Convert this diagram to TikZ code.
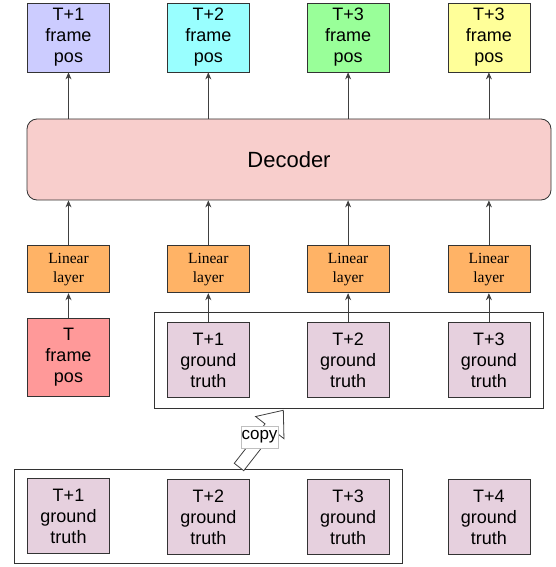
\documentclass[tikz,border=0pt]{standalone}
\usepackage{fontspec}
\setmainfont{Liberation Sans}
\newfontfamily\linfont{Liberation Serif}
\usetikzlibrary{positioning,fit,arrows.meta}

\definecolor{outblue}{HTML}{CCCCFF}
\definecolor{outcyan}{HTML}{99FFFF}
\definecolor{outgreen}{HTML}{99FF99}
\definecolor{outyellow}{HTML}{FFFF99}
\definecolor{decred}{HTML}{F8CECC}
\definecolor{linorange}{HTML}{FFB366}
\definecolor{curred}{HTML}{FF9999}
\definecolor{gtpink}{HTML}{E6D0DE}

\begin{document}
\begin{tikzpicture}[
      x=1pt, y=1pt,
      nodes={inner sep=0pt, align=center},
      box/.style={draw=black!80, line width=0.8pt, minimum width=82pt,
        font=\fontsize{18}{21}\selectfont},
      posbox/.style={box, minimum height=69pt},
      gtbox/.style={box, fill=gtpink, minimum height=75pt},
      linbox/.style={box, fill=linorange, minimum height=47pt,
        font=\linfont\fontsize{15.5}{19}\selectfont},
      group/.style={draw=black!80, line width=0.8pt},
      line width=0.8pt, draw=black!75, >={Stealth[length=7pt,width=6pt]}
      ]

      \useasboundingbox (0,0) rectangle (556,-567);

      \node[posbox, fill=outblue]                    (out1) at (68.5,-37.5) {T+1\\frame\\pos};
      \node[posbox, fill=outcyan, right=57pt of out1]   (out2) {T+2\\frame\\pos};
      \node[posbox, fill=outgreen, right=57pt of out2]  (out3) {T+3\\frame\\pos};
      \node[posbox, fill=outyellow, right=58pt of out3] (out4) {T+3\\frame\\pos};

      \node[draw=black!80, line width=0.8pt, fill=decred, rounded corners=10pt,
        minimum width=524pt, minimum height=81pt,
        font=\fontsize{22}{26}\selectfont] (dec) at (289,-159.5) {Decoder};

      \node[linbox, below=173pt of out1] (lin1) {Linear\\layer};
      \node[linbox, below=173pt of out2] (lin2) {Linear\\layer};
      \node[linbox, below=173pt of out3] (lin3) {Linear\\layer};
      \node[linbox, below=173pt of out4] (lin4) {Linear\\layer};

      \node[box, fill=curred, minimum height=78pt, below=25pt of lin1] (cur) {T\\frame\\pos};
      \node[gtbox, below=29pt of lin2] (gt1) {T+1\\ground\\truth};
      \node[gtbox, below=29pt of lin3] (gt2) {T+2\\ground\\truth};
      \node[gtbox, below=29pt of lin4] (gt3) {T+3\\ground\\truth};
      \node[group, fit=(gt1)(gt3), inner xsep=13pt, inner ysep=10pt] (gtgroup) {};

      \node[gtbox, below=81pt of cur] (bgt1) {T+1\\ground\\truth};
      \node[gtbox, below=81pt of gt1] (bgt2) {T+2\\ground\\truth};
      \node[gtbox, below=81pt of gt2] (bgt3) {T+3\\ground\\truth};
      \node[gtbox, below=81pt of gt3] (bgt4) {T+4\\ground\\truth};
      \node[group, fit=(bgt1)(bgt3), inner xsep=13pt, inner ysep=8.5pt] (bgroup) {};

  % Connect the nodes
  \foreach \i in {1,...,4} {
    \draw[->] (dec.north -| out\i) -- (out\i);
    \draw[->] (lin\i) -- (dec.south -| lin\i);
  }
  \draw[->] (cur) -- (lin1);
  \draw[->] (gt1) -- (lin2);
  \draw[->] (gt2) -- (lin3);
  \draw[->] (gt3) -- (lin4);

  % copy arrow
  \draw[fill=white, shift={(239,-467)}, rotate=52]
    (0,-6) -- (50,-6) -- (50,-18) -- (72,0) -- (50,18) -- (50,6) -- (0,6) -- cycle;
  \node[draw=black!25, fill=white, inner xsep=0.5pt, minimum height=22pt,
    font=\fontsize{17}{20}\selectfont] (copy) at (259.5,-437) {copy};

\end{tikzpicture}
\end{document}
